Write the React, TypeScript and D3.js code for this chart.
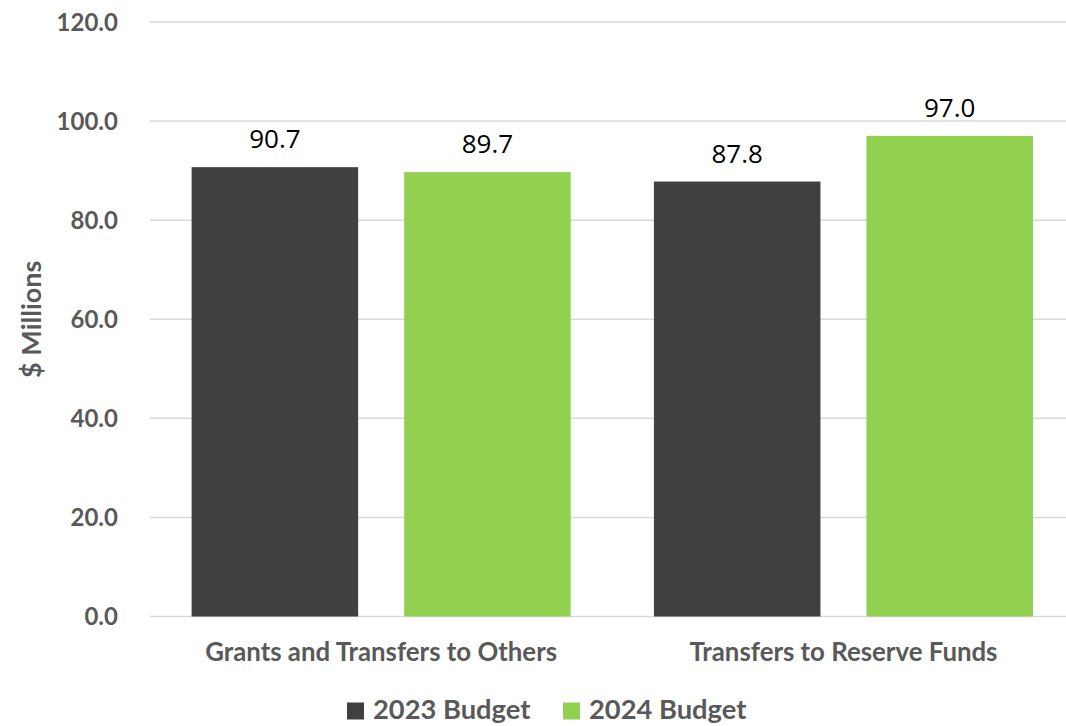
import React from "react";
import * as d3 from "d3";

const categories = ["Grants and Transfers to Others", "Transfers to Reserve Funds"];
const seriesNames = ["2023 Budget", "2024 Budget"];
const budget2023 = [90.7, 87.8];
const budget2024 = [89.7, 97.0];
const yTicks = [0, 20, 40, 60, 80, 100, 120];
const colors = ["#404040", "#92D050"];

const W = 1066;
const H = 726;
const left = 150;
const right = 1074.6;
const top = 22;
const bottom = 616.5;

export default function App() {
  const y = d3.scaleLinear().domain([0, 120]).range([bottom, top]);
  const x0 = d3.scaleBand<string>().domain(categories).range([left, right]).paddingInner(0.18).paddingOuter(0.09);
  const x1 = d3.scaleBand<string>().domain(seriesNames).range([0, x0.bandwidth()]).paddingInner(0.2165);
  const seriesValues = [budget2023, budget2024];
  const fmt = d3.format(".1f");
  const axisFont = "Lato, 'Open Sans', sans-serif";
  const gray = "#595959";

  return (
    <svg width={W} height={H} style={{ position: "absolute", left: 0, top: 0, background: "#fff" }}>
      {yTicks.map((t) => (
        <g key={t}>
          <line x1={left} x2={W} y1={y(t)} y2={y(t)} stroke="#D9D9D9" strokeWidth={1.5} />
          <text x={118} y={y(t)} dy="0.36em" textAnchor="end" fontFamily={axisFont} fontWeight={700} fontSize={24} fill={gray}>
            {fmt(t)}
          </text>
        </g>
      ))}
      {categories.map((c, i) => (
        <g key={c} transform={`translate(${x0(c)},0)`}>
          {seriesNames.map((s, j) => {
            const v = seriesValues[j][i];
            const bx = x1(s) as number;
            return (
              <g key={s}>
                <rect x={bx} y={y(v)} width={x1.bandwidth()} height={bottom - y(v)} fill={colors[j]} />
                <text x={bx + x1.bandwidth() / 2} y={y(v) - 19} textAnchor="middle" fontFamily="'Open Sans', sans-serif" fontSize={26} fill="#000">
                  {fmt(v)}
                </text>
              </g>
            );
          })}
          <text x={x0.bandwidth() / 2} y={661} textAnchor="middle" fontFamily={axisFont} fontWeight={700} fontSize={25.8} fill={gray}>
            {c}
          </text>
        </g>
      ))}
      <text transform={`translate(41,${(top + bottom) / 2}) rotate(-90)`} textAnchor="middle" fontFamily={axisFont} fontWeight={700} fontSize={27} fill={gray}>
        $ Millions
      </text>
      {seriesNames.map((s, j) => {
        const lx = [347, 563][j];
        return (
          <g key={s}>
            <rect x={lx} y={702.5} width={17} height={17} fill={colors[j]} />
            <text x={lx + 26} y={719} fontFamily={axisFont} fontWeight={700} fontSize={27.3} fill={gray}>
              {s}
            </text>
          </g>
        );
      })}
    </svg>
  );
}
